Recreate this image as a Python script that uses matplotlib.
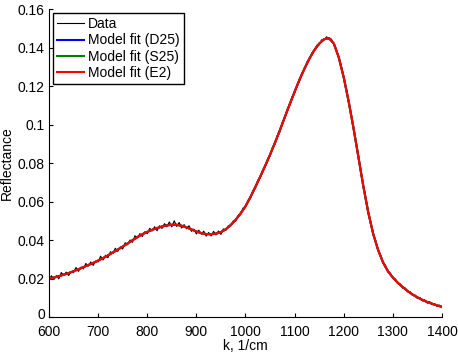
import matplotlib
matplotlib.use("Agg")
import matplotlib.pyplot as plt
from matplotlib.transforms import ScaledTranslation

plt.rcParams['font.family'] = ['Liberation Sans', 'DejaVu Sans']

# Model fit wavenumbers and values
k_fit = list(range(600, 1401, 10))
fit_values = [
    0.0198, 0.0205, 0.0212, 0.0220, 0.0228, 0.0238, 0.0248, 0.0259, 0.0270, 0.0281,
    0.0293, 0.0306, 0.0320, 0.0335, 0.0350, 0.0366, 0.0382, 0.0399, 0.0415, 0.0430,
    0.0442, 0.0453, 0.0462, 0.0470, 0.0476, 0.0479, 0.0479, 0.0474, 0.0466, 0.0455,
    0.0444, 0.0436, 0.0431, 0.0430, 0.0433, 0.0441, 0.0456, 0.0478, 0.0505, 0.0538,
    0.0575, 0.0623, 0.0675, 0.0729, 0.0785, 0.0843, 0.0905, 0.0970, 0.1038, 0.1105,
    0.1170, 0.1233, 0.1290, 0.1342, 0.1386, 0.1420, 0.1443, 0.1449, 0.1420, 0.1348,
    0.1245, 0.1120, 0.0980, 0.0830, 0.0678, 0.0543, 0.0432, 0.0348, 0.0284, 0.0238,
    0.0205, 0.0178, 0.0156, 0.0135, 0.0117, 0.0102, 0.0089, 0.0078, 0.0069, 0.0060,
    0.0053,
]
fit_d25 = fit_values
fit_s25 = fit_values
fit_e2 = fit_values

# Measured data
k_data = list(range(600, 1401, 5))
data = [
    0.0195, 0.0214, 0.0195, 0.0215, 0.0198, 0.0231, 0.0216, 0.0233, 0.0216, 0.0236,
    0.0230, 0.0257, 0.0237, 0.0259, 0.0250, 0.0278, 0.0264, 0.0286, 0.0268, 0.0291,
    0.0286, 0.0316, 0.0296, 0.0321, 0.0308, 0.0339, 0.0330, 0.0357, 0.0341, 0.0364,
    0.0353, 0.0386, 0.0375, 0.0400, 0.0388, 0.0422, 0.0411, 0.0433, 0.0418, 0.0443,
    0.0433, 0.0461, 0.0447, 0.0469, 0.0448, 0.0474, 0.0460, 0.0485, 0.0469, 0.0494,
    0.0468, 0.0500, 0.0470, 0.0491, 0.0462, 0.0480, 0.0458, 0.0474, 0.0445, 0.0457,
    0.0431, 0.0451, 0.0430, 0.0446, 0.0420, 0.0439, 0.0421, 0.0445, 0.0426, 0.0447,
    0.0429, 0.0458, 0.0450, 0.0474, 0.0473, 0.0499, 0.0498, 0.0527, 0.0532, 0.0566,
    0.0570, 0.0606, 0.0615, 0.0654, 0.0669, 0.0710, 0.0725, 0.0764, 0.0778, 0.0820,
    0.0838, 0.0882, 0.0899, 0.0943, 0.0962, 0.1011, 0.1033, 0.1080, 0.1099, 0.1144,
    0.1163, 0.1207, 0.1225, 0.1269, 0.1285, 0.1324, 0.1336, 0.1371, 0.1381, 0.1412,
    0.1414, 0.1440, 0.1438, 0.1456, 0.1443, 0.1444, 0.1413, 0.1390, 0.1343, 0.1303,
    0.1239, 0.1188, 0.1116, 0.1056, 0.0975, 0.0910, 0.0824, 0.0759, 0.0674, 0.0617,
    0.0538, 0.0493, 0.0426, 0.0397, 0.0343, 0.0322, 0.0280, 0.0268, 0.0233, 0.0228,
    0.0200, 0.0198, 0.0174, 0.0172, 0.0150, 0.0151, 0.0131, 0.0132, 0.0112, 0.0115,
    0.0096, 0.0102, 0.0084, 0.0089, 0.0072, 0.0080, 0.0064, 0.0070, 0.0054, 0.0062,
    0.0049,
]

x_ticks = [600, 700, 800, 900, 1000, 1100, 1200, 1300, 1400]
y_ticks = [0, 0.02, 0.04, 0.06, 0.08, 0.1, 0.12, 0.14, 0.16]
y_tick_labels = ['0', '0.02', '0.04', '0.06', '0.08', '0.1', '0.12', '0.14', '0.16']

fig = plt.figure(figsize=(4.58, 3.54), dpi=100)
ax = fig.add_axes([0.107, 0.1045, 0.858, 0.870])

ax.plot(k_data, data, color='black', lw=0.8, label='Data')
ax.plot(k_fit, fit_d25, color='#0000ff', lw=1.5, label='Model fit (D25)')
ax.plot(k_fit, fit_s25, color='#008000', lw=1.5, label='Model fit (S25)')
ax.plot(k_fit, fit_e2, color='#ff0000', lw=1.5, label='Model fit (E2)')

ax.set_xlim(600, 1400)
ax.set_ylim(0, 0.16)
ax.set_xticks(x_ticks)
ax.set_yticks(y_ticks)
ax.set_yticklabels(y_tick_labels)
ax.tick_params(direction='in', length=3, labelsize=10, width=0.8)
ax.tick_params(axis='x', pad=5.5)
ax.tick_params(axis='y', pad=3)
ax.spines['top'].set_visible(False)
ax.spines['right'].set_visible(False)
ax.set_xlabel('k, 1/cm', fontsize=10, labelpad=0)
ax.set_ylabel('Reflectance', fontsize=10, labelpad=3)

# nudge the "0" y tick label up slightly so it does not collide with "600"
zero_label = ax.get_yticklabels()[0]
zero_label.set_transform(zero_label.get_transform() +
                         ScaledTranslation(0, 2.5 / 72, fig.dpi_scale_trans))

leg = ax.legend(loc='upper left', fontsize=10, fancybox=False, framealpha=1,
                edgecolor='black', borderpad=0.3, handlelength=1.9,
                handletextpad=0.3, labelspacing=0.15, borderaxespad=0.3)
leg.get_frame().set_linewidth(1.0)
leg.get_lines()[0].set_linewidth(0.8)
for line in leg.get_lines()[1:]:
    line.set_linewidth(1.5)

fig.savefig('out.png', dpi=100)
